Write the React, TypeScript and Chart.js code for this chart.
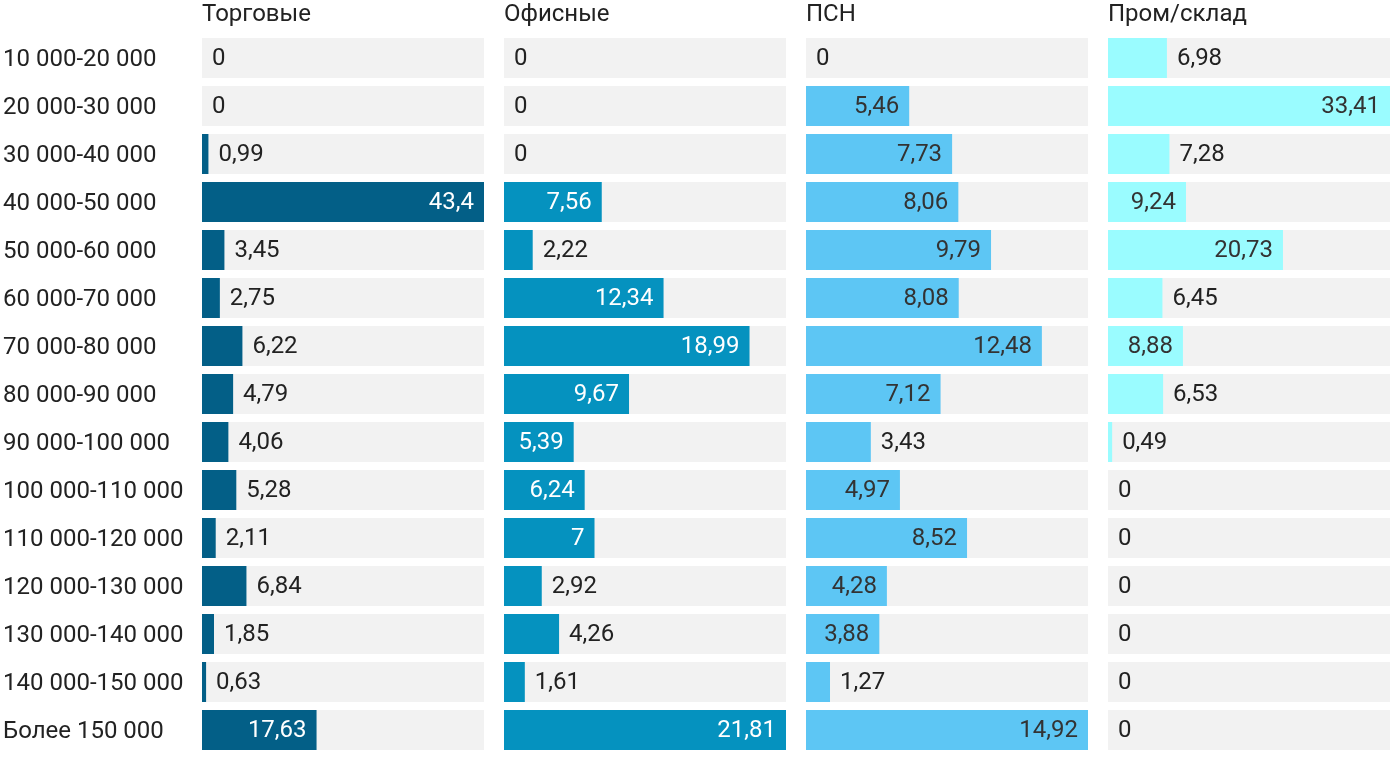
import React, { useEffect, useRef } from "react";
import { Chart, registerables } from "chart.js";

Chart.register(...registerables);

const CATEGORIES = [
  "10 000-20 000",
  "20 000-30 000",
  "30 000-40 000",
  "40 000-50 000",
  "50 000-60 000",
  "60 000-70 000",
  "70 000-80 000",
  "80 000-90 000",
  "90 000-100 000",
  "100 000-110 000",
  "110 000-120 000",
  "120 000-130 000",
  "130 000-140 000",
  "140 000-150 000",
  "Более 150 000",
];

const TITLES = ["Торговые", "Офисные", "ПСН", "Пром/склад"];

const TORGOVYE = [0, 0, 0.99, 43.4, 3.45, 2.75, 6.22, 4.79, 4.06, 5.28, 2.11, 6.84, 1.85, 0.63, 17.63];
const OFISNYE = [0, 0, 0, 7.56, 2.22, 12.34, 18.99, 9.67, 5.39, 6.24, 7, 2.92, 4.26, 1.61, 21.81];
const PSN = [0, 5.46, 7.73, 8.06, 9.79, 8.08, 12.48, 7.12, 3.43, 4.97, 8.52, 4.28, 3.88, 1.27, 14.92];
const PROM = [6.98, 33.41, 7.28, 9.24, 20.73, 6.45, 8.88, 6.53, 0.49, 0, 0, 0, 0, 0, 0];

const SERIES = [TORGOVYE, OFISNYE, PSN, PROM];
const COLORS = ["#035f87", "#0592bf", "#5dc6f4", "#9afcff"];
const INSIDE_TEXT = ["#ffffff", "#ffffff", "#333333", "#333333"];

const FONT = "Roboto";
const FONT_SIZE = 24;

const PANELS = [
  { left: 0, width: 484, showAxis: true },
  { left: 504, width: 282, showAxis: false },
  { left: 806, width: 282, showAxis: false },
  { left: 1108, width: 282, showAxis: false },
];

const fmt = (v: number) => String(v).replace(".", ",");

function makeLabelPlugin(insideColor: string) {
  return {
    id: "valueLabels",
    afterDatasetsDraw(chart: any) {
      const meta = chart.getDatasetMeta(0);
      const data = chart.data.datasets[0].data as number[];
      const ctx = chart.ctx;
      ctx.save();
      ctx.font = `${FONT_SIZE}px ${FONT}`;
      ctx.textBaseline = "middle";
      meta.data.forEach((bar: any, i: number) => {
        const txt = fmt(data[i]);
        const w = ctx.measureText(txt).width;
        const barW = bar.x - bar.base;
        if (w + 20 <= barW) {
          ctx.fillStyle = insideColor;
          ctx.textAlign = "right";
          ctx.fillText(txt, bar.x - 10, bar.y + 1);
        } else {
          ctx.fillStyle = "#222222";
          ctx.textAlign = "left";
          ctx.fillText(txt, bar.x + 10, bar.y + 1);
        }
      });
      ctx.restore();
    },
  };
}

function Panel({ idx }: { idx: number }) {
  const ref = useRef<HTMLCanvasElement | null>(null);
  const panel = PANELS[idx];
  useEffect(() => {
    if (!ref.current) return;
    const values = SERIES[idx];
    const maxV = Math.max(...values);
    const chart = new Chart(ref.current, {
      type: "bar",
      data: {
        labels: CATEGORIES,
        datasets: [
          {
            data: values,
            backgroundColor: COLORS[idx],
            borderWidth: 0,
            grouped: false,
            order: 1,
            barPercentage: 1,
            categoryPercentage: 40 / 48,
          },
          {
            data: values.map(() => maxV),
            backgroundColor: "#f2f2f2",
            borderWidth: 0,
            grouped: false,
            order: 2,
            barPercentage: 1,
            categoryPercentage: 40 / 48,
          },
        ],
      },
      options: {
        indexAxis: "y",
        responsive: false,
        animation: false,
        layout: {
          padding: { left: panel.showAxis ? 3 : 0, right: 0, top: 0, bottom: 12 },
        },
        plugins: {
          legend: { display: false },
          tooltip: { enabled: false },
          title: {
            display: true,
            text: TITLES[idx],
            align: "start",
            fullSize: false,
            color: "#222222",
            font: { family: FONT, size: FONT_SIZE, weight: "normal", lineHeight: 1.2 },
            padding: { top: 1, bottom: 4.2 },
          },
        },
        scales: {
          x: {
            display: false,
            min: 0,
            max: maxV,
          },
          y: {
            display: panel.showAxis,
            grid: { display: false },
            border: { display: false },
            ticks: {
              crossAlign: "far",
              color: "#222222",
              padding: 0,
              labelOffset: 2,
              font: { family: FONT, size: FONT_SIZE },
            },
            afterFit(scale: any) {
              if (panel.showAxis) {
                scale.width = 199;
                scale.paddingTop = 0;
                scale.paddingBottom = 0;
              }
            },
          },
        },
      },
      plugins: [makeLabelPlugin(INSIDE_TEXT[idx])],
    } as any);
    return () => chart.destroy();
  }, [idx]);
  return (
    <div style={{ position: "absolute", left: panel.left, top: 0, width: panel.width, height: 766 }}>
      <canvas ref={ref} width={panel.width} height={766} style={{ width: panel.width, height: 766, display: "block" }} />
    </div>
  );
}

export default function App() {
  return (
    <div style={{ position: "absolute", left: 0, top: 0, width: 1400, height: 766, background: "#ffffff", overflow: "hidden" }}>
      {PANELS.map((_, i) => (
        <Panel key={i} idx={i} />
      ))}
    </div>
  );
}
